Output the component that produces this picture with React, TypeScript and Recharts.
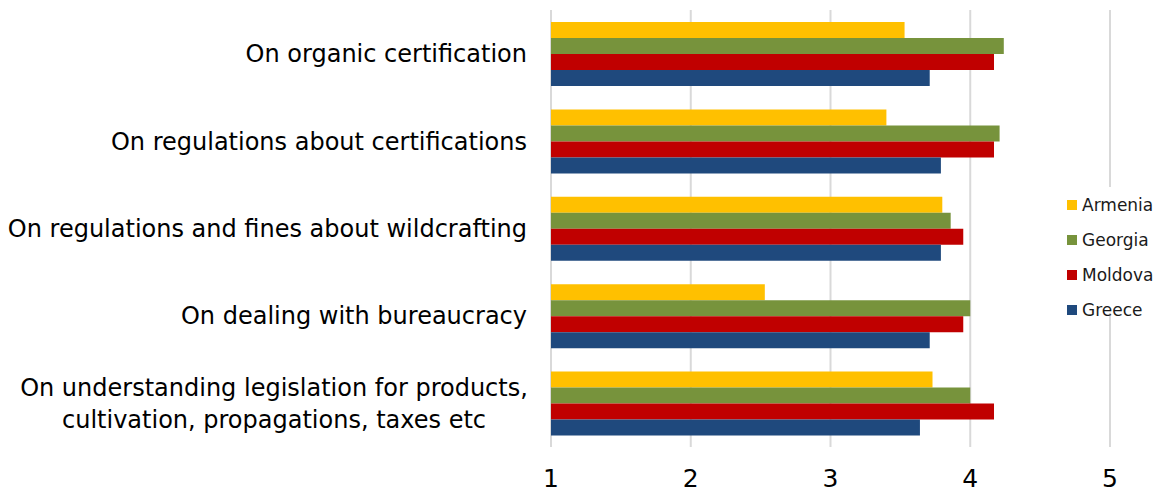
import { BarChart, Bar, XAxis, YAxis, CartesianGrid, Legend } from "recharts";

const categories = [
  "On organic certification",
  "On regulations about certifications",
  "On regulations and fines about wildcrafting",
  "On dealing with bureaucracy",
  "On understanding legislation for products,\ncultivation, propagations, taxes etc",
];

const armenia = [3.53, 3.4, 3.8, 2.53, 3.73];
const georgia = [4.24, 4.21, 3.86, 4.0, 4.0];
const moldova = [4.17, 4.17, 3.95, 3.95, 4.17];
const greece = [3.71, 3.79, 3.79, 3.71, 3.64];

const xTicks = [1, 2, 3, 4, 5];

const SERIES = [
  { key: "Armenia", color: "#FFC000" },
  { key: "Georgia", color: "#77933C" },
  { key: "Moldova", color: "#C00000" },
  { key: "Greece", color: "#1F497D" },
];

const data = categories.map((name, i) => ({
  name,
  Armenia: armenia[i],
  Georgia: georgia[i],
  Moldova: moldova[i],
  Greece: greece[i],
}));

const FONT = "'DejaVu Sans', Tahoma, sans-serif";

function CategoryTick({ x, y, payload }: any) {
  const lines = String(payload.value).split("\n");
  if (lines.length === 1) {
    return (
      <text
        x={x - 24}
        y={y}
        dy="0.35em"
        textAnchor="end"
        fontSize={24}
        fontFamily={FONT}
        fill="#000"
      >
        {lines[0]}
      </text>
    );
  }
  return (
    <text
      x={x - 277}
      y={y}
      textAnchor="middle"
      fontSize={24}
      fontFamily={FONT}
      fill="#000"
    >
      {lines.map((line, i) => (
        <tspan key={i} x={x - 277} dy={i === 0 ? "-0.32em" : 32}>
          {line}
        </tspan>
      ))}
    </text>
  );
}

function LegendBox() {
  return (
    <div
      style={{
        background: "#fff",
        width: 100,
        height: 126,
        paddingLeft: 6,
        boxSizing: "border-box",
      }}
    >
      {SERIES.map((s) => (
        <div
          key={s.key}
          style={{
            height: 35,
            display: "flex",
            alignItems: "center",
            fontFamily: FONT,
            fontSize: 17,
            color: "#1a1a1a",
          }}
        >
          <span
            style={{
              width: 10,
              height: 10,
              background: s.color,
              marginRight: 5,
              display: "inline-block",
            }}
          />
          {s.key}
        </div>
      ))}
    </div>
  );
}

export default function App() {
  return (
    <div style={{ position: "absolute", left: 0, top: 0, background: "#fff" }}>
      <BarChart
        width={1161}
        height={493}
        data={data}
        layout="vertical"
        margin={{ top: 10, right: 51, bottom: 16, left: 0 }}
        barCategoryGap={12}
        barGap={0}
      >
        <CartesianGrid
          horizontal={false}
          stroke="#d9d9d9"
          strokeWidth={2}
        />
        <XAxis
          type="number"
          domain={[1, 5]}
          ticks={xTicks}
          axisLine={false}
          tickLine={false}
          tickSize={0}
          tickMargin={22}
          height={30}
          tick={{ fontSize: 25, fontFamily: FONT, fill: "#000" }}
          interval={0}
          allowDataOverflow
        />
        <YAxis
          type="category"
          dataKey="name"
          width={551}
          axisLine={false}
          tickLine={false}
          tickSize={0}
          tickMargin={0}
          tick={<CategoryTick />}
          interval={0}
        />
        <Legend
          layout="vertical"
          align="center"
          verticalAlign="middle"
          content={<LegendBox />}
          wrapperStyle={{ left: 1061, top: 187, width: 100, height: 126 }}
        />
        {SERIES.map((s) => (
          <Bar
            key={s.key}
            dataKey={s.key}
            fill={s.color}
            isAnimationActive={false}
          />
        ))}
      </BarChart>
    </div>
  );
}
